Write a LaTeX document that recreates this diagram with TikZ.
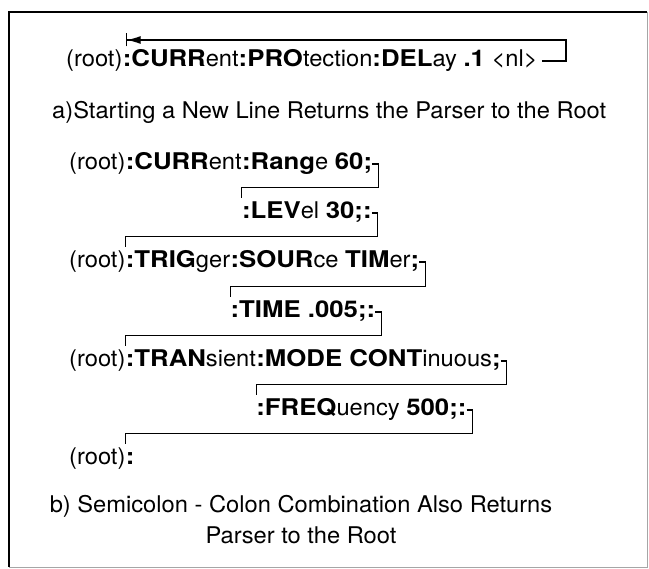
\documentclass[tikz,border=0pt]{standalone}
\usepackage{fontspec}
\setmainfont{TeX Gyre Heros}[FakeStretch=1.03,BoldFeatures={FakeStretch=1.12}]
\usetikzlibrary{arrows.meta,positioning}

\tikzset{
  cmd/.style={inner sep=0pt, text height=17pt, text depth=5pt, font=\fontsize{23}{27}\selectfont},
  brk/.style={line width=1.1pt},
  ret/.style={line width=1.1pt, -{Latex[length=14pt,width=8pt]Bar[width=13pt]}},
}

\begin{document}
\begin{tikzpicture}[x=1pt,y=-1pt]
    \useasboundingbox (0,0) rectangle (649,569);

    % Rahmen
    \draw[line width=0.6pt, black!35] (647,12) -- (647,567) -- (9,567);
    \draw[line width=2.2pt] (9,567) -- (9,12) -- (647,12);

    % a) neue Zeile
    \node[cmd, anchor=base west] (r0) at (66,67) {(root)};
    \node[cmd, right=0pt of r0] (c0) {\textbf{:CURR}ent\textbf{:PRO}tection\textbf{:DEL}ay \textbf{.1} <nl>};
    \coordinate (turn) at (566,40);
    \draw[ret] ([xshift=4pt]c0.east) -| (turn) -- ([xshift=3pt]r0.east |- turn);
    \node[cmd, anchor=base west] (capa) at (52,119) {a)Starting a New Line Returns the Parser to the Root};

    % b) Semikolon - Doppelpunkt
    \node[cmd, anchor=base west] (r1) at (69,170) {(root)};
    \node[cmd, right=0pt of r1] (p1) {\textbf{:CURR}ent};
    \node[cmd, right=0pt of p1] (q1) {\textbf{:Rang}e \textbf{60;}};
    \node[cmd, anchor=base west] (q1b) at (q1.west |- 0,219) {\textbf{:LEV}el \textbf{30;:}};

    \node[cmd, anchor=base west] (r2) at (69,268) {(root)};
    \node[cmd, right=0pt of r2] (p2) {\textbf{:TRIG}ger};
    \node[cmd, right=0pt of p2] (q2) {\textbf{:SOUR}ce \textbf{TIM}er\textbf{;}};
    \node[cmd, anchor=base west] (q2b) at (q2.west |- 0,318) {\textbf{:TIME .005;:}};

    \node[cmd, anchor=base west] (r3) at (69,367) {(root)};
    \node[cmd, right=0pt of r3] (p3) {\textbf{:TRAN}sient};
    \node[cmd, right=0pt of p3] (q3) {\textbf{:MODE CONT}inuous\textbf{;}};
    \node[cmd, anchor=base west] (q3b) at (q3.west |- 0,416) {\textbf{:FREQ}uency \textbf{500;:}};

    \node[cmd, anchor=base west] (r4) at (69,465) {(root)};
    \node[cmd, right=0pt of r4] (p4) {\textbf{:}};

    % Klammern zurueck
    \draw[brk] (q1.east) -- ++(6,0) |- ([yshift=14pt]q1b.north west) -- ([yshift=4pt]q1b.north west);
    \draw[brk] (q1b.east) -- ++(6,0) |- ([yshift=14pt]p2.north west) -- ([yshift=4pt]p2.north west);
    \draw[brk] (q2.east) -- ++(6,0) |- ([yshift=14pt]q2b.north west) -- ([yshift=4pt]q2b.north west);
    \draw[brk] (q2b.east) -- ++(6,0) |- ([yshift=14pt]p3.north west) -- ([yshift=4pt]p3.north west);
    \draw[brk] (q3.east) -- ++(6,0) |- ([yshift=14pt]q3b.north west) -- ([yshift=4pt]q3b.north west);
    \draw[brk] (q3b.east) -- ++(6,0) |- ([yshift=14pt]p4.north west) -- ([yshift=4pt]p4.north west);

    \node[cmd, anchor=base] (capb) at (301,513) {b) Semicolon - Colon Combination Also Returns};
    \node[cmd, below=8pt of capb] (capb2) {Parser to the Root};
\end{tikzpicture}
\end{document}
